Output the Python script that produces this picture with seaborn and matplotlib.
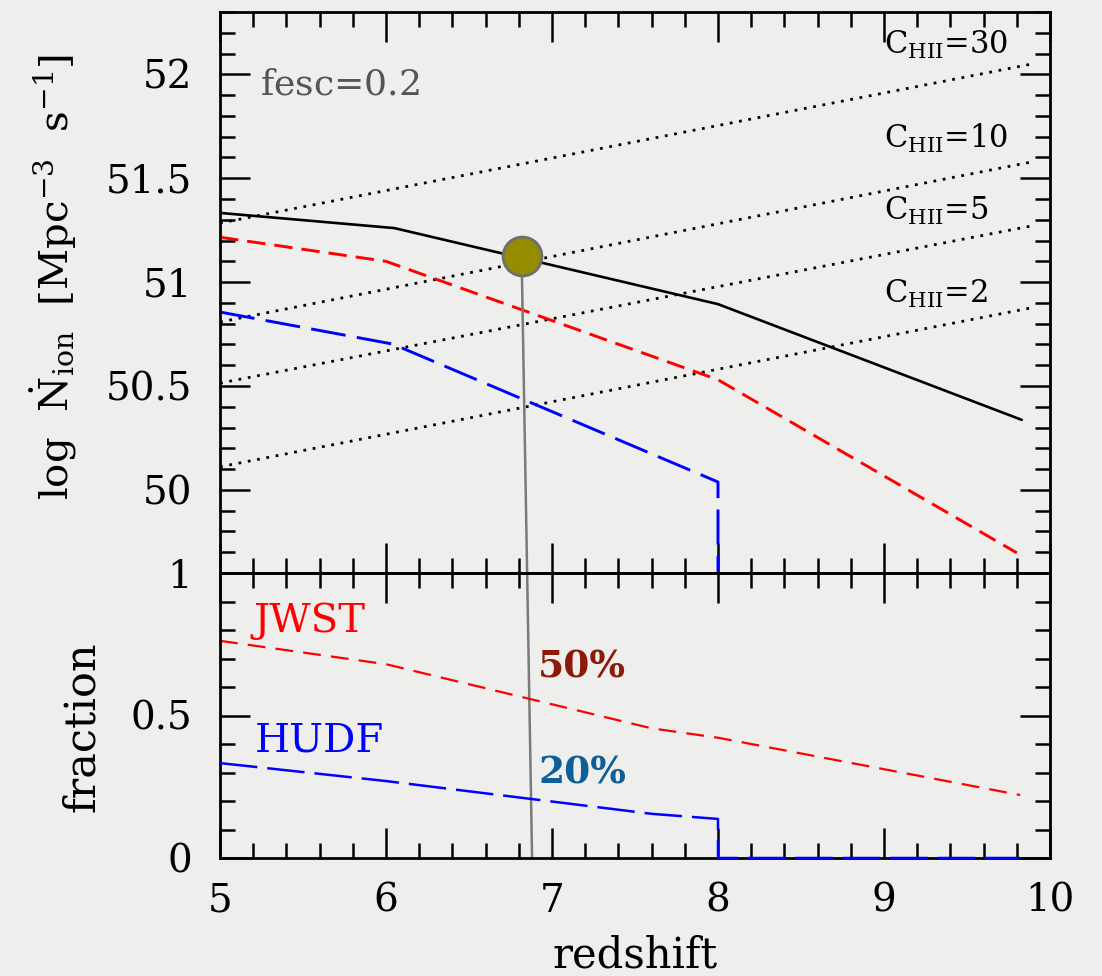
import numpy as np
import matplotlib
matplotlib.use("Agg")
import matplotlib.pyplot as plt
from matplotlib.ticker import MultipleLocator, FuncFormatter
from matplotlib.patches import ConnectionPatch
import seaborn as sns

# ---- data -------------------------------------------------------------
# ionizing photon production rate, log N_ion [Mpc^-3 s^-1], fesc = 0.2
z_total = [5.0, 6.05, 8.0, 9.83]
n_total = [51.333, 51.26, 50.894, 50.337]

z_jwst = [5.0, 6.0, 8.0, 9.8]
n_jwst = [51.216, 51.10, 50.53, 49.697]

z_hudf = [5.0, 6.04, 8.0, 8.0]
n_hudf = [50.856, 50.702, 50.038, 49.6]

# critical rates for clumping factors C_HII
clump_factors = [30, 10, 5, 2]
z_clump = [5.0, 9.88]
n_clump = {30: [51.284, 52.048],
           10: [50.808, 51.577],
           5: [50.514, 51.269],
           2: [50.111, 50.875]}
clump_label_y = {30: 52.096, 10: 51.644, 5: 51.298, 2: 50.899}

# reionization point
z_reion_top = 6.817
n_reion = 51.126
z_reion_bottom = 6.88

# fraction of the total rate resolved by each survey
zf_jwst = [5.0, 6.0, 7.6, 8.0, 9.82]
f_jwst = [0.762, 0.68, 0.455, 0.422, 0.221]

zf_hudf = [5.0, 6.0, 7.6, 8.0, 8.0, 9.82]
f_hudf = [0.333, 0.27, 0.155, 0.137, 0.0, 0.0]

x_ticks = [5, 6, 7, 8, 9, 10]
top_ticks = [50, 50.5, 51, 51.5, 52]
bottom_ticks = [0, 0.5, 1]

# ---- style ------------------------------------------------------------
sns.set_theme(style="ticks")
bg = "#eeeeec"
plt.rcParams["font.family"] = ["DejaVu Serif"]
plt.rcParams["mathtext.fontset"] = "dejavuserif"
plt.rcParams["axes.linewidth"] = 2.0
for key in ("text.color", "axes.labelcolor", "xtick.color", "ytick.color",
            "xtick.labelcolor", "ytick.labelcolor", "axes.edgecolor"):
    plt.rcParams[key] = "black"

fig = plt.figure(figsize=(11.02, 9.76), dpi=100, facecolor=bg)
W, H = 1102.0, 976.0
ax1 = fig.add_axes([220 / W, (H - 573) / H, 830 / W, 561 / H])
ax2 = fig.add_axes([220 / W, (H - 858) / H, 830 / W, 285 / H])
for ax in (ax1, ax2):
    ax.set_facecolor("none")
    for s in ax.spines.values():
        s.set_color("black")
        s.set_linewidth(2.0)

# ---- top panel ----------------------------------------------------------
for c in clump_factors:
    sns.lineplot(x=z_clump, y=n_clump[c], ax=ax1, color="black", lw=2.0,
                 linestyle=(0, (1, 2.4)), estimator=None, sort=False)
    ax1.text(9.0, clump_label_y[c], r"C$_{\rm HII}$=" + str(c), fontsize=22,
             ha="left", va="baseline", color="black")

sns.lineplot(x=z_total, y=n_total, ax=ax1, color="black", lw=1.9,
             estimator=None, sort=False)
sns.lineplot(x=z_jwst, y=n_jwst, ax=ax1, color="#ff0000", lw=2.1,
             linestyle=(0, (6.3, 3.1)), estimator=None, sort=False)
sns.lineplot(x=z_hudf, y=n_hudf, ax=ax1, color="#0000ff", lw=2.1,
             linestyle=(0, (12.0, 3.9)), estimator=None, sort=False)

sns.scatterplot(x=[z_reion_top], y=[n_reion], ax=ax1, s=784,
                color="#968c00", edgecolor="#6e6e6e", linewidth=2.0, zorder=6)

ax1.text(5.241, 51.904, r"fesc=0.$\mathit{2}$", fontsize=26, color="#555555",
         ha="left", va="baseline")

con = ConnectionPatch(xyA=(z_reion_top, n_reion), coordsA="data", axesA=ax1,
                      xyB=(z_reion_bottom, 0.0), coordsB="data", axesB=ax2,
                      color="#7a7a7a", lw=1.8, zorder=4)
ax1.add_artist(con)

ax1.set_xlim(5, 10)
ax1.set_ylim(49.6, 52.3)
ax1.set_yticks(top_ticks)
ax1.yaxis.set_minor_locator(MultipleLocator(0.1))
ax1.set_ylabel(r"log  $\dot{\rm N}_{\rm ion}$  [Mpc$^{-3}$  s$^{-1}$]",
               fontsize=29, va="center", ha="center")
ax1.yaxis.set_label_coords(-0.201, 0.528)

# ---- bottom panel -------------------------------------------------------
sns.lineplot(x=zf_jwst, y=f_jwst, ax=ax2, color="#ff0000", lw=1.6,
             linestyle=(0, (8.0, 4.6)), estimator=None, sort=False)
sns.lineplot(x=zf_hudf, y=f_hudf, ax=ax2, color="#0000ff", lw=1.8,
             linestyle=(0, (15.0, 4.0)), estimator=None, sort=False,
             clip_on=False, zorder=3)

ax2.text(5.2, 0.793, "JWST", fontsize=29, color="#ff0000", ha="left", va="baseline")
ax2.text(5.21, 0.372, "HUDF", fontsize=29, color="#0000ff", ha="left", va="baseline")
ax2.text(6.916, 0.632, "50%", fontsize=27, color="#8b1a08", fontweight="bold",
         ha="left", va="baseline")
ax2.text(6.916, 0.263, "20%", fontsize=27, color="#0c5f98", fontweight="bold",
         ha="left", va="baseline")

ax2.set_xlim(5, 10)
ax2.set_ylim(0, 1)
ax2.set_yticks(bottom_ticks)
ax2.yaxis.set_minor_locator(MultipleLocator(0.1))
ax2.set_ylabel("fraction", fontsize=31, va="center", ha="center")
ax2.yaxis.set_label_coords(-0.166, 0.46)
ax2.set_xlabel("redshift", fontsize=30, va="baseline")
ax2.xaxis.set_label_coords(0.5, -0.385)

# ---- ticks --------------------------------------------------------------
fmt = FuncFormatter(lambda v, p: "%g" % v)
for ax in (ax1, ax2):
    ax.set_xticks(x_ticks)
    ax.xaxis.set_minor_locator(MultipleLocator(0.2))
    ax.yaxis.set_major_formatter(fmt)
    ax.xaxis.set_major_formatter(fmt)
    ax.tick_params(which="both", direction="in", top=True, right=True,
                   width=1.8, color="black")
    ax.tick_params(which="major", length=21.6)
    ax.tick_params(which="minor", length=10.8)
    ax.tick_params(axis="y", which="major", labelsize=28, pad=20,
                   labelcolor="black")
    ax.tick_params(axis="x", which="major", labelsize=28, pad=18,
                   labelcolor="black")
ax1.tick_params(axis="x", labelbottom=False)

fig.savefig("out.png", dpi=100, facecolor=bg)
